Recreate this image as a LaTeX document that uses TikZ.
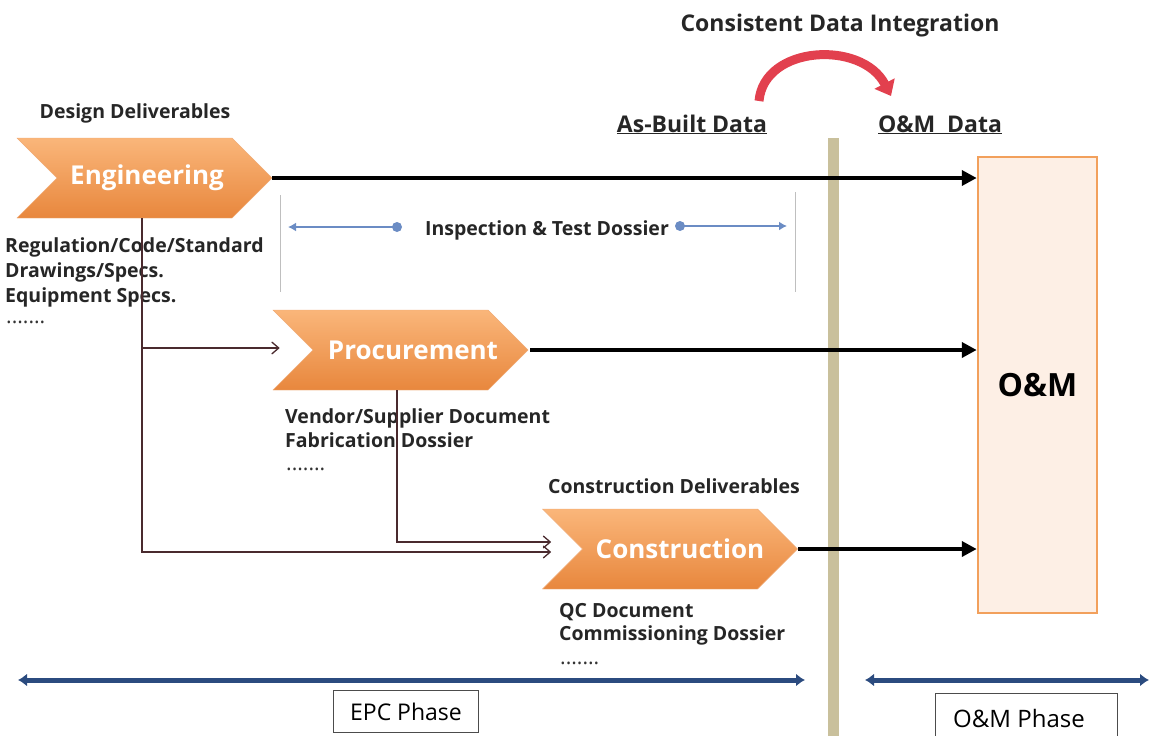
\documentclass[tikz,border=0pt]{standalone}
\usepackage{fontspec}
\setmainfont{Open Sans}
\usetikzlibrary{shapes.symbols,arrows.meta,calc}
\definecolor{orT}{HTML}{FAB67A}
\definecolor{orB}{HTML}{E8873D}
\definecolor{conncol}{HTML}{4A2A2E}
\definecolor{itdcol}{HTML}{6B8CC4}
\definecolor{navycol}{HTML}{2B4B7F}
\definecolor{barcol}{HTML}{C9C09C}
\definecolor{omfill}{HTML}{FDEFE5}
\definecolor{omdraw}{HTML}{F2A05C}
\definecolor{redarc}{HTML}{E2404E}
\begin{document}
\begin{tikzpicture}[x=1pt,y=-1pt,
  chev/.style={signal, signal to=east, signal from=west, signal pointer angle=90,
    minimum width=255pt, minimum height=80pt, inner sep=0pt,
    top color=orT, bottom color=orB, draw=orB!70!white,
    text=white, font=\bfseries\fontsize{26}{30}\selectfont},
  lbl/.style={font=\bfseries\fontsize{19.5}{25}\selectfont, text=black!85, inner sep=0pt},
  big/.style={lbl, font=\bfseries\fontsize{23}{26}\selectfont},
  dots/.style={font=\fontsize{21}{21}\selectfont, text=black!80, inner sep=0pt, anchor=base west},
  flow/.style={line width=4pt, black, -{Triangle[width=15pt,length=15pt]}},
  connarr/.style={line width=1.5pt, conncol, -{Straight Barb[width=12pt,length=7pt,line width=1.3pt]}},
  phase/.style={line width=5pt, navycol, {Latex[width=13pt,length=9pt]}-{Latex[width=13pt,length=9pt]}},
  itdarr/.style={line width=1.6pt, itdcol, -{Latex[width=9pt,length=8pt]}},
  phasebox/.style={draw=black!70, line width=1pt, fill=white, inner sep=0pt}
]
\useasboundingbox (0,0) rectangle (1149,736);

% vertical divider bar
\fill[barcol] (828,138) rectangle (839,736);

% O&M box
\node[draw=omdraw, line width=2.5pt, fill=omfill, minimum width=119pt, minimum height=456pt, inner sep=0pt,
  font=\bfseries\fontsize{32}{34}\selectfont] (om) at (1037.5,385) {O\&M};

% chevrons
\node[chev] (eng) at (144.5,178) {\makebox[0pt]{\hspace*{5pt}Engineering}};
\node[chev] (proc) at (400.5,350) {\makebox[0pt]{\hspace*{25pt}Procurement}};
\node[chev] (cons) at (670,549) {\makebox[0pt]{\hspace*{20pt}Construction}};

% labels
\node[lbl, anchor=base] (dd) at (135,118) {Design Deliverables};
\node[lbl, anchor=base west] (engdoc1) at (5,252) {Regulation/Code/Standard};
\node[lbl, anchor=base west] (engdoc2) at (5,277) {Drawings/Specs.};
\node[lbl, anchor=base west] (engdoc3) at (5,302) {Equipment Specs.};
\node[dots] (engdots) at (6,323) {.......};
\node[lbl, anchor=base west] (procdoc1) at (285,423) {Vendor/Supplier Document};
\node[lbl, anchor=base west] (procdoc2) at (285,447) {Fabrication Dossier};
\node[dots] (procdots) at (286,470) {.......};
\node[lbl, anchor=base] (cd) at (674,493) {Construction Deliverables};
\node[lbl, anchor=base west] (consdoc1) at (559,617) {QC Document};
\node[lbl, anchor=base west] (consdoc2) at (559,640) {Commissioning Dossier};
\node[dots] (consdots) at (560,664) {.......};

% flows to O&M
\draw[flow] (eng.east) -- (om.west |- eng.east);
\draw[flow] ([xshift=2pt]proc.east) -- (om.west |- proc.east);
\draw[flow] (cons.east) -- (om.west |- cons.east);

% internal connectors
\draw[connarr] ([xshift=-2.5pt]eng.south) |- ([xshift=-31pt,yshift=-3pt]cons.west);
\draw[connarr] ([xshift=-2.5pt]eng.south |- 0,348) -- ([xshift=-33pt,yshift=2pt]proc.west);
\draw[connarr] ([xshift=-3.5pt]proc.south) |- ([xshift=-31pt,yshift=7pt]cons.west);

% Inspection & Test Dossier
\draw[black!25, line width=1pt] (280,195) coordinate (gl1) -- (280,292) coordinate (gl2);
\draw[black!25, line width=1pt] (795,192) coordinate (gr1) -- (795,292) coordinate (gr2);
\node[lbl, anchor=base] (itd) at (547,235) {Inspection \& Test Dossier};
\fill[itdcol] (397,227) circle (5pt) coordinate (d1);
\fill[itdcol] (680,226) circle (5pt) coordinate (d2);
\draw[itdarr] (d1) -- (288,227);
\draw[itdarr] (d2) -- (787,226);

% data labels
\node[big, anchor=base] (ct) at (840,31) {Consistent Data Integration};
\node[big, anchor=base] (ab) at (692,132) {\underline{As-Built Data}};
\node[big, anchor=base] (omd) at (940,132) {\underline{O\&M\ \ Data}};
\draw[redarc, line width=9pt, -{Triangle[width=22pt,length=14pt]}] (759,101) .. controls (764,45) and (862,40) .. (891,96);

% phases
\draw[phase] (18,680) -- (805,680);
\draw[phase] (865,680) -- (1149,680);
\node[phasebox, minimum width=145pt, minimum height=42pt] (epc) at (405.5,711) {};
\node[anchor=base, font=\fontsize{23}{26}\selectfont, inner sep=0pt] (epct) at (406,720) {EPC Phase};
\node[phasebox, minimum width=182pt, minimum height=46pt] (omp) at (1026,716) {};
\node[anchor=base, font=\fontsize{24}{26}\selectfont, inner sep=0pt] (ompt) at (1019,727) {O\&M Phase};
\end{tikzpicture}
\end{document}
